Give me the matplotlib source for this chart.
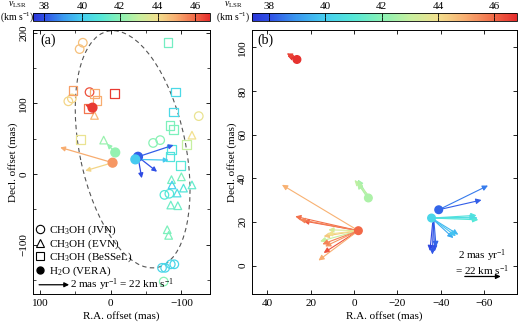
import matplotlib
matplotlib.use("Agg")
import matplotlib.pyplot as plt
import numpy as np
from matplotlib.colors import LinearSegmentedColormap, Normalize
from matplotlib.cm import ScalarMappable
from matplotlib.patches import Ellipse
from matplotlib.lines import Line2D
from matplotlib.ticker import MultipleLocator

plt.rcParams['font.family'] = ['Liberation Serif', 'DejaVu Serif']
plt.rcParams['mathtext.fontset'] = 'custom'
plt.rcParams['mathtext.rm'] = 'Liberation Serif'
plt.rcParams['mathtext.it'] = 'Liberation Serif:italic'
plt.rcParams['font.size'] = 8

# velocity colour scale
v_min, v_max = 37.4, 46.8
cb_ticks = [38, 40, 42, 44, 46]
cmap_v = [37.4, 38, 39, 40, 41, 42, 43, 44, 45, 46, 46.8]
cmap_c = ['#2a35d8', '#3050e6', '#3a9af0', '#46cff0', '#55e8d8', '#88f2b5',
          '#c6f0a0', '#f2e08e', '#f8ad70', '#f26a48', '#e52c2c']

# panel (a): CH3OH JVN (circles)
jvn_x = [39.5, 44, 30, 60, 55, -124.6, -60, -70, -76, -83, -72.6, -77, -85, -90, -75]
jvn_y = [186, 177, 116, 103, 107, 82, 44, 48, -29.6, -28, -133, -133, -128, -128, -152.5]
jvn_v = [44.6, 44.6, 46.3, 44.2, 44.2, 43.8, 42.0, 42.0, 41.0, 41.0, 40.3, 40.3, 40.3, 40.3, 42.0]

# panel (a): CH3OH EVN (triangles)
evn_x = [23, 10, -115, -86, -100, -115, -103, -94, -86.8, -85, -95, -80, -82]
evn_y = [83, 48, 55, -8, -4, -15.5, -20, -27, -15.5, -44, -45, -79, -87]
evn_v = [44.8, 42.3, 44.0, 41.6, 41.8, 41.3, 40.9, 40.6, 40.1, 41.5, 41.5, 41.8, 41.8]

# panel (a): CH3OH BeSSeL (squares)
bes_x = [53.6, 23, 19.6, -5.4, 31.5, 43, -81, -91.5, -89, -84, -89, -107, -86, -84, -98.6]
bes_y = [118, 114, 104, 114, 92.5, 49, 186, 116, 88, 69, 63, 42, 35, 25, 12]
bes_v = [45.2, 45.0, 45.0, 46.6, 45.8, 43.8, 41.6, 40.4, 40.4, 41.8, 41.8, 43.0, 40.8, 40.8, 41.0]

# panel (a): H2O VERA spots and mean proper motions (mas/yr)
vera_x = [25.8, -6.4, -2.6, -38.6, -34.8]
vera_y = [94, 30.5, 16, 24.4, 20.7]
vera_v = [46.6, 42.2, 45.3, 38.2, 39.9]
pm_a_spot = [0, 1, 2, 2, 3, 3, 3, 4]
pm_a_x = [0.49, 0.56, 3.49, 1.82, -2.37, -1.27, -0.25, -2.22]
pm_a_y = [0.19, 0.59, 1.02, -0.54, 0.78, -1.00, -1.43, -0.05]
pm_a_v = [46.6, 42.2, 45.0, 44.2, 38.2, 38.0, 37.9, 39.9]

# panel (b): H2O spots
b_spot_x = [26.3, -6.6, -2.0, -39.0, -35.7]
b_spot_y = [94.5, 31.0, 16.0, 25.6, 21.8]
b_spot_v = [46.7, 42.6, 46.0, 38.3, 40.3]

# panel (b): H2O feature proper motions (start in mas, motion in mas/yr)
pm_b_x0 = [26.3, 26.0, -6.6, -6.3, -6.0, -5.8,
           -2.0, -2.0, -2.0, -2.0, -2.0, -2.0, -2.0, -2.0, -2.0, -2.0, -2.0, -2.0,
           -39.0, -39.0,
           -35.7, -35.7, -35.7, -35.7, -35.7, -35.7, -35.7,
           -36.5, -36.8, -36.2, -36.5]
pm_b_y0 = [94.5, 94.8, 31.0, 32.0, 33.0, 31.5,
           16.0, 16.0, 16.0, 16.0, 16.0, 16.0, 16.0, 16.0, 16.0, 16.0, 16.0, 16.0,
           25.6, 25.6,
           21.8, 21.8, 21.8, 21.8, 21.8, 21.8, 21.8,
           20.0, 20.5, 19.5, 20.0]
pm_b_x = [0.53, 0.60, 0.62, 0.55, 0.70, 0.50,
          4.25, 3.51, 3.06, 3.27, 1.67, 1.93, 2.13, 1.85, 1.93, 2.22, 1.75, 2.00,
          -2.74, -2.38,
          -2.57, -2.50, -2.60, -2.45, -1.49, -1.21, -1.35,
          -0.08, -0.12, 0.15, 0.05]
pm_b_y = [0.22, 0.30, 0.81, 0.90, 0.75, 0.85,
          2.54, 0.79, 0.54, 0.62, 0.05, -0.31, -0.59, -0.87, -1.23, -1.65, -0.20, -0.75,
          1.34, 0.54,
          0.00, 0.15, -0.10, 0.05, -0.92, -1.11, -1.00,
          -1.63, -1.45, -1.55, -1.80]
pm_b_v = [46.7, 46.5, 42.6, 42.4, 42.9, 42.7,
          44.9, 45.9, 46.2, 45.6, 43.4, 44.5, 43.0, 45.3, 46.3, 45.0, 44.0, 45.6,
          38.6, 38.2,
          40.4, 40.8, 41.0, 40.6, 39.6, 39.3, 39.8,
          38.0, 38.3, 37.8, 38.1]

# ellipse fitted to methanol ring (mas, deg)
ell_center = (-31, 35)
ell_axes = (342, 150)
ell_angle = 78.3

scale_a = 21.25  # mas of plot per mas/yr
scale_b = 8.28

pos = [(v - v_min) / (v_max - v_min) for v in cmap_v]
cmap = LinearSegmentedColormap.from_list('vlsr', list(zip(pos, cmap_c)))
norm = Normalize(v_min, v_max)


def arrow(ax, x0, y0, dx, dy, color, lw=0.9, ms=7):
    ax.annotate('', xy=(x0 + dx, y0 + dy), xytext=(x0, y0),
                arrowprops=dict(arrowstyle='-|>', color=color, lw=lw,
                                mutation_scale=ms, shrinkA=0, shrinkB=0))


def style_axes(ax):
    ax.tick_params(which='both', direction='in', top=True, right=True)
    ax.tick_params(which='major', length=3, width=0.6)
    ax.tick_params(which='minor', length=2, width=0.5)
    ax.tick_params(axis='y', labelrotation=90)
    for lab in ax.get_yticklabels():
        lab.set_va('center')
    for s in ax.spines.values():
        s.set_linewidth(0.7)


fig = plt.figure(figsize=(5.2, 3.23), dpi=100)
ax1 = fig.add_axes([0.0635, 0.09, 0.341, 0.817])
ax2 = fig.add_axes([0.4846, 0.09, 0.5094, 0.817])

# ---- panel (a)
ax1.add_patch(Ellipse(ell_center, ell_axes[0], ell_axes[1], angle=ell_angle,
                      fill=False, ls=(0, (4, 3)), lw=0.8, color='#555555'))
for xs, ys, vs, mk in [(jvn_x, jvn_y, jvn_v, 'o'), (evn_x, evn_y, evn_v, '^'),
                       (bes_x, bes_y, bes_v, 's')]:
    ax1.scatter(xs, ys, s=38 if mk != '^' else 30, marker=mk, facecolors='none',
                edgecolors=cmap(norm(vs)), linewidths=0.9, zorder=2)
for i in range(len(pm_a_x)):
    k = pm_a_spot[i]
    arrow(ax1, vera_x[k], vera_y[k], pm_a_x[i] * scale_a, pm_a_y[i] * scale_a,
          cmap(norm(pm_a_v[i])))
ax1.scatter(vera_x, vera_y, s=40, c=cmap(norm(vera_v)), zorder=4)

ax1.set_xlim(110, -141)
ax1.set_ylim(-170, 204)
ax1.set_xticks([100, 0, -100])
ax1.set_yticks([-100, 0, 100, 200])
ax1.xaxis.set_minor_locator(MultipleLocator(50))
ax1.yaxis.set_minor_locator(MultipleLocator(50))
style_axes(ax1)
ax1.set_xlabel('R.A. offset (mas)', labelpad=2)
ax1.set_ylabel('Decl. offset (mas)', labelpad=1)
ax1.text(0.04, 0.985, '(a)', transform=ax1.transAxes, fontsize=10, va='top')

handles = [
    Line2D([], [], ls='none', marker='o', mfc='none', mec='k', mew=0.8, ms=6),
    Line2D([], [], ls='none', marker='^', mfc='none', mec='k', mew=0.8, ms=6),
    Line2D([], [], ls='none', marker='s', mfc='none', mec='k', mew=0.8, ms=6),
    Line2D([], [], ls='none', marker='o', mfc='k', mec='k', ms=5),
]
labels = ['CH$_3$OH (JVN)', 'CH$_3$OH (EVN)', 'CH$_3$OH (BeSSeL)', 'H$_2$O (VERA)']
ax1.legend(handles, labels, loc='upper left', bbox_to_anchor=(-0.01, 0.282),
           frameon=False, handlelength=0.8, handletextpad=0.4,
           labelspacing=0.0, borderaxespad=0, fontsize=8)
arrow(ax1, 101.4, -157, -2 * scale_a, 0, 'k')
ax1.text(57, -157, '2 mas yr$^{-1}$ = 22 km s$^{-1}$', va='center', fontsize=8)

# ---- panel (b)
for i in range(len(pm_b_x)):
    arrow(ax2, pm_b_x0[i], pm_b_y0[i], pm_b_x[i] * scale_b, pm_b_y[i] * scale_b,
          cmap(norm(pm_b_v[i])), lw=0.8, ms=8)
ax2.scatter(b_spot_x, b_spot_y, s=30, c=cmap(norm(b_spot_v)), zorder=4)

ax2.set_xlim(47, -75)
ax2.set_ylim(-13, 108)
ax2.set_xticks([40, 20, 0, -20, -40, -60])
ax2.set_yticks([0, 20, 40, 60, 80, 100])
style_axes(ax2)
ax2.set_xlabel('R.A. offset (mas)', labelpad=2)
ax2.set_ylabel('Decl. offset (mas)', labelpad=1)
ax2.text(0.02, 0.985, '(b)', transform=ax2.transAxes, fontsize=10, va='top')
arrow(ax2, -51.0, -5.0, -2 * scale_b, 0, 'k')
ax2.text(-59, 8.5, '2 mas yr$^{-1}$\n= 22 km s$^{-1}$', ha='center', va='top',
         fontsize=8, linespacing=1.0)

# ---- colour bars
sm = ScalarMappable(norm=norm, cmap=cmap)
for ax, lx in [(ax1, 0.033), (ax2, 0.449)]:
    p = ax.get_position()
    cax = fig.add_axes([p.x0, 0.935, p.width, 0.026])
    cb = fig.colorbar(sm, cax=cax, orientation='horizontal', ticks=cb_ticks)
    cb.outline.set_linewidth(0.6)
    cax.xaxis.set_ticks_position('both')
    cax.xaxis.set_label_position('top')
    cax.tick_params(direction='in', length=3, width=0.6, labeltop=True,
                    labelbottom=False, pad=1, labelsize=8)
    fig.text(lx, 0.984, '$v_{\\rm LSR}$', ha='center', va='center', fontsize=7)
    fig.text(lx, 0.947, '(km s$^{-1}$)', ha='center', va='center', fontsize=7)

fig.savefig('out.png', dpi=100)
